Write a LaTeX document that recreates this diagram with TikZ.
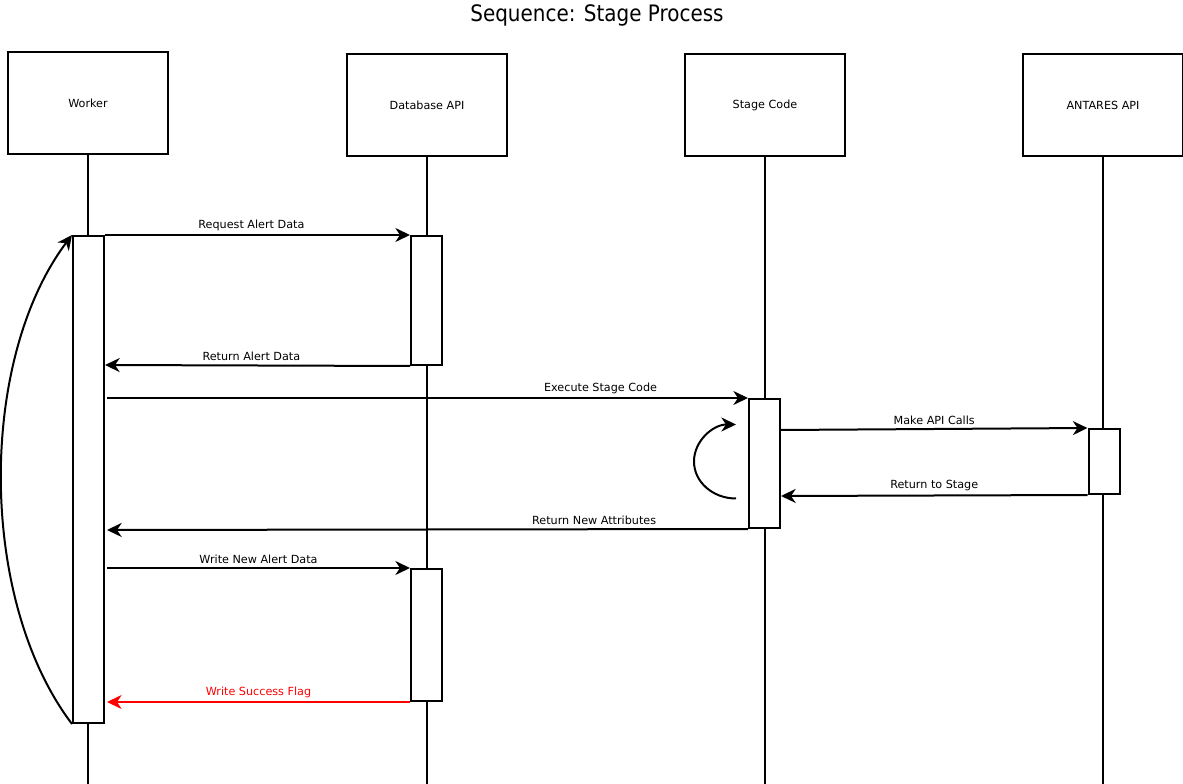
\documentclass[tikz,border=0pt]{standalone}
\usepackage{fontspec}
\setmainfont{DejaVu Sans}
\newfontfamily\titlefont[FakeStretch=0.88]{DejaVu Sans}
\usetikzlibrary{arrows.meta,calc}

\tikzset{
  actor/.style={draw, line width=1.5pt, minimum width=120pt, minimum height=76.5pt, inner sep=0pt},
  act/.style={draw, fill=white, line width=1.5pt, minimum width=23.25pt, inner sep=0pt},
  life/.style={line width=1.5pt},
  msg/.style={->, line width=1.5pt},
  lbl/.style={font=\fontsize{8.4}{10}\selectfont, inner sep=2.5pt}
}

\begin{document}
\begin{tikzpicture}[x=0.75pt, y=-0.75pt, >={Stealth[length=11pt,width=10.5pt,inset=3.5pt]},
                    every node/.style={font=\fontsize{8.4}{10}\selectfont}]

          \useasboundingbox (0,0) rectangle (1183,784);

          \node[font=\titlefont\fontsize{17}{19}\selectfont] (title) at (597,15) {Sequence: Stage Process};

          % lifeline heads
          \node[actor] (worker) at (88,103) {Worker};
          \node[actor] (db) at (427,105) {Database API};
          \node[actor] (stage) at (765,105) {Stage Code};
          \node[actor] (antares) at (1103,105) {ANTARES API};

          \coordinate (wend) at (88,784);
          \coordinate (dend) at (427,784);
          \coordinate (send) at (765,784);
          \coordinate (aend) at (1103,784);

          \draw[life] (worker) -- (wend);
          \draw[life] (db) -- (dend);
          \draw[life] (stage) -- (send);
          \draw[life] (antares) -- (aend);

          % activations
          \node[act, minimum height=365.25pt] (w) at (88.5,479.5) {};
          \node[act, minimum height=96.75pt] (d1) at (426.5,300.5) {};
          \node[act, minimum height=96.75pt] (s) at (764.5,463.5) {};
          \node[act, minimum height=48.75pt] (a) at (1104,461.5) {};
          \node[act, minimum height=99pt] (d2) at (426.5,635) {};

          % messages
          \draw[msg] (w.north east) -- node[lbl, above, pos=0.48] {Request Alert Data} (d1.north west);
          \draw[msg] (d1.south west) -- node[lbl, above, pos=0.52] {Return Alert Data} ($(w.east |- d1.south west)+(0,-1)$);
          \draw[msg] ($(w.east |- s.north west)+(2,0)$) -- node[lbl, above, pos=0.77] {Execute Stage Code} (s.north west);
          \draw[msg] ($(s.east |- a.north west)+(0,2)$) -- node[lbl, above] {Make API Calls} (a.north west);
          \draw[msg] (a.south west) -- node[lbl, above] {Return to Stage} ($(s.east |- a.south west)+(0,1)$);
          \draw[msg] (s.south west) -- node[lbl, above, pos=0.24] {Return New Attributes} ($(w.east |- s.south west)+(2,1)$);
          \draw[msg] ($(w.east |- d2.north west)+(2,0)$) -- node[lbl, above] {Write New Alert Data} (d2.north west);
          \draw[msg, red] (d2.south west) -- node[lbl, above, text=red] {Write Success Flag} ($(w.east |- d2.south west)+(2,0)$);

          % self call on stage code
          \coordinate (loopstart) at ($(s.west)+(-12,35)$);
          \draw[msg] (loopstart) arc[start angle=90, end angle=270, x radius=42, y radius=37];

          % worker loop
          \draw[msg] (w.south west) .. controls (-22,600) and (-22,360) .. (w.north west);

\end{tikzpicture}
\end{document}
